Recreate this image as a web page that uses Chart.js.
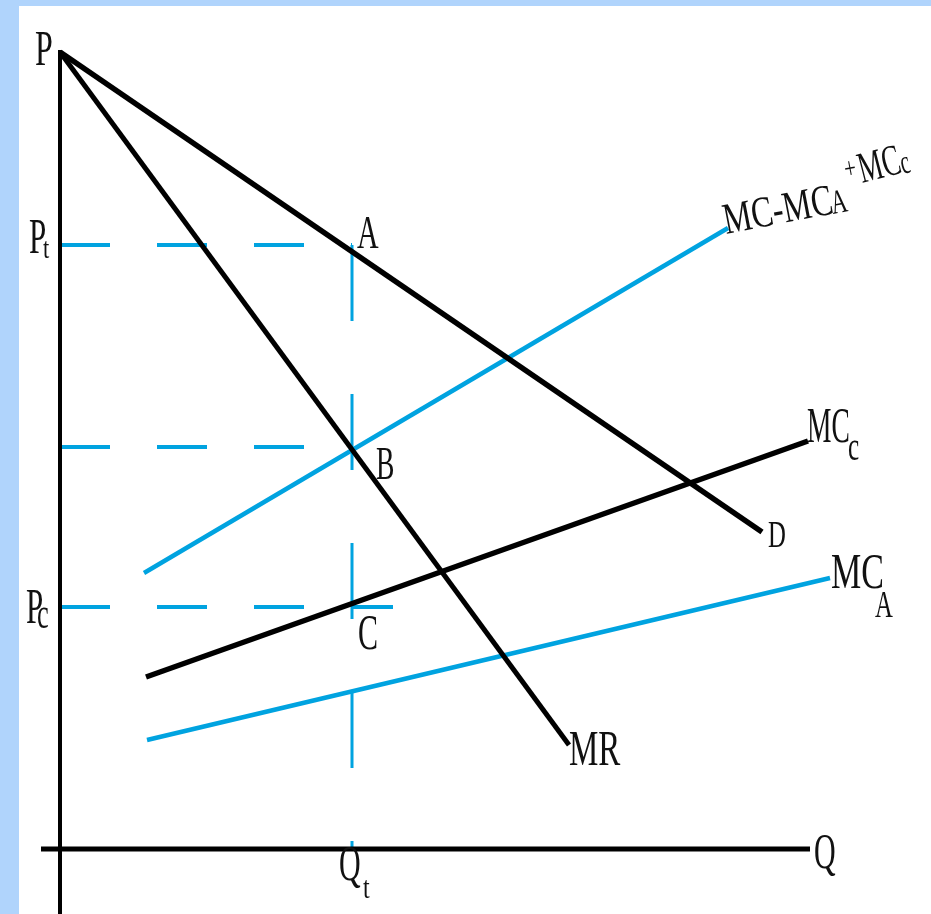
<!DOCTYPE html>
<html>
<head>
<meta charset="utf-8">
<script src="https://cdn.jsdelivr.net/npm/chart.js@4.4.1/dist/chart.umd.min.js"></script>
<style>
  html, body { margin: 0; padding: 0; background: #b0d4fc; overflow: hidden; }
  #paper { position: absolute; left: 19px; top: 6px; right: 0; bottom: 0; background: #fff; }
  #myChart { position: absolute; left: 0; top: 0; }
</style>
</head>
<body>
<div id="paper"></div>
<canvas id="myChart" width="931" height="914"></canvas>
<script>
// quantities (Q along, P up; origin where the axes cross)
const demand = [[0, 797], [702, 317]];
const marginalRevenue = [[0, 797], [509, 104]];
const mcTotal = [[84, 276], [668, 621]];
const mcC = [[86, 172], [748, 408]];
const mcA = [[87, 109], [770, 271]];
const qT = 292;
const pT = 604;
const pB = 402;
const pC = 242;
const pcDashEnd = 333;
const xAxisEnds = [-19, 750];
const yAxisEnds = [-65, 799];

const blue = '#00a3e0';
const black = '#000';

const toPts = arr => arr.map(p => ({ x: p[0], y: p[1] }));

const seg = (pts, color, width, order, dash) => ({
  data: toPts(pts),
  showLine: true,
  borderColor: color,
  backgroundColor: color,
  borderWidth: width,
  borderDash: dash || [],
  borderCapStyle: 'butt',
  pointRadius: 0,
  order: order
});

// labels: text pieces drawn with a narrow serif look
const serif = (size) => `${size}px "Liberation Serif", "DejaVu Serif", serif`;
const labels = [
  // [text, px, py, size, xscale, rotation]
  ['P', 35, 65, 50, 0.64, 0],
  ['P', 29, 253, 50, 0.62, 0], ['t', 43, 258, 30, 0.75, 0],
  ['P', 26, 623, 50, 0.62, 0], ['c', 37, 628, 44, 0.6, 0],
  ['A', 357, 248, 46, 0.65, 0],
  ['B', 376, 479, 46, 0.6, 0],
  ['C', 358, 649, 50, 0.6, 0],
  ['D', 768, 547, 38, 0.65, 0],
  ['MR', 569, 765, 50, 0.66, 0],
  ['MC', 807, 442, 50, 0.55, 0], ['c', 848, 460, 42, 0.6, 0],
  ['MC', 831, 588, 50, 0.68, 0], ['A', 875, 617, 38, 0.65, 0],
  ['Q', 814, 868, 50, 0.6, 0],
  ['Q', 339, 880, 50, 0.6, 0], ['t', 363, 898, 32, 0.75, 0],
  ['MC-MC', 726, 234, 44, 0.73, -0.19],
  ['A', 833, 214, 34, 0.65, -0.19],
  ['+', 846, 179, 30, 0.7, -0.19],
  ['MC', 862, 183, 44, 0.62, -0.25],
  ['c', 903, 174, 34, 0.6, -0.25]
];

const textPlugin = {
  id: 'textPlugin',
  afterDatasetsDraw(chart) {
    const { ctx } = chart;
    labels.forEach(([str, x, y, size, sx, rot]) => {
      ctx.save();
      ctx.fillStyle = '#111';
      ctx.font = serif(size);
      ctx.textAlign = 'left';
      ctx.textBaseline = 'alphabetic';
      ctx.translate(x, y);
      ctx.rotate(rot);
      ctx.scale(sx, 1);
      ctx.fillText(str, 0, 0);
      ctx.restore();
    });
  }
};

const datasets = [
  // axes
  seg([[0, yAxisEnds[0]], [0, yAxisEnds[1]]], black, 4, 0),
  seg([[xAxisEnds[0], 0], [xAxisEnds[1], 0]], black, 5, 0),
  // black curves
  seg(demand, black, 5.5, 1),
  seg(marginalRevenue, black, 5, 1),
  seg(mcC, black, 5.5, 1),
  // blue curves
  seg(mcTotal, blue, 4.5, 2),
  seg(mcA, blue, 4.5, 2),
  // dashed guides
  seg([[0, pT], [qT, pT]], blue, 4, 3, [50, 47]),
  seg([[0, pB], [qT, pB]], blue, 4, 3, [50, 47]),
  seg([[0, pC], [pcDashEnd, pC]], blue, 4, 3, [50, 47]),
  seg([[qT, pT], [qT, 0]], blue, 3, 3, [76, 73])
];

const config = {
  type: 'scatter',
  data: { datasets },
  options: {
    responsive: false,
    animation: false,
    layout: { padding: 0 },
    scales: {
      x: { type: 'linear', min: -60, max: 871, display: false },
      y: { type: 'linear', min: -65, max: 849, display: false }
    },
    plugins: {
      legend: { display: false },
      tooltip: { enabled: false }
    }
  },
  plugins: [textPlugin]
};

const myChart = new Chart(document.getElementById('myChart'), config);
</script>
</body>
</html>
